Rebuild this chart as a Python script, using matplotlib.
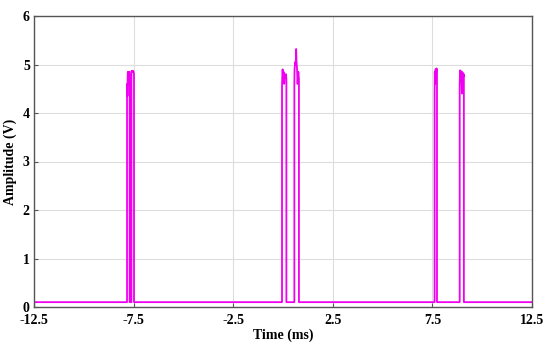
import matplotlib
matplotlib.use("Agg")
import matplotlib.pyplot as plt

# Signal (time in ms, amplitude in V)
base = 0.1
time = [-12.5, -7.83,
        -7.83, -7.82, -7.81, -7.80, -7.79, -7.77, -7.75, -7.73, -7.71, -7.70,
        -7.70, -7.61,
        -7.61, -7.60, -7.58, -7.55, -7.52, -7.50, -7.48,
        -7.48, -0.05,
        -0.05, -0.04, -0.02, 0.00, 0.03, 0.06, 0.09, 0.12, 0.15, 0.17,
        0.17, 0.57,
        0.57, 0.58, 0.61, 0.64, 0.66, 0.68, 0.70, 0.73, 0.77, 0.80,
        0.80, 7.61,
        7.61, 7.62, 7.64, 7.66, 7.68, 7.71, 7.73,
        7.73, 8.87,
        8.87, 8.89, 8.92, 8.95, 8.98, 9.01, 9.05, 9.08,
        9.08, 12.5]
amplitude = [base, base,
             4.45, 4.60, 4.35, 4.70, 4.85, 4.85, 4.60, 4.85, 4.85, 4.80,
             base, base,
             4.80, 4.87, 4.87, 4.85, 4.87, 4.85, 4.80,
             base, base,
             4.55, 4.70, 4.90, 4.75, 4.85, 4.60, 4.80, 4.75, 4.80, 4.70,
             base, base,
             4.60, 4.90, 5.05, 5.00, 5.32, 5.05, 4.95, 4.60, 4.85, 4.70,
             base, base,
             4.40, 4.85, 4.60, 4.90, 4.80, 4.92, 4.85,
             base, base,
             4.60, 4.88, 4.80, 4.86, 4.40, 4.84, 4.75, 4.80,
             base, base]

xticks = [-12.5, -7.5, -2.5, 2.5, 7.5, 12.5]
xtick_labels = ["-12.5", "-7.5", "-2.5", "2.5", "7.5", "12.5"]
yticks = [0, 1, 2, 3, 4, 5, 6]

plt.rcParams['font.family'] = ['Liberation Serif', 'DejaVu Serif']
fig = plt.figure(figsize=(5.5, 3.48), dpi=100)
ax = fig.add_axes([34/550, 1 - 307/348, (532-34)/550, (307-16)/348])
ax.plot(time, amplitude, color='#F000F0', lw=1.3)
ax.set_xlim(-12.5, 12.5)
ax.set_ylim(0, 6)
ax.set_xticks(xticks)
ax.set_xticklabels(xtick_labels)
ax.set_yticks(yticks)
ax.grid(True, color='#DDDDDD', lw=0.8)
ax.set_axisbelow(True)
for s in ax.spines.values():
    s.set_color('#555555')
    s.set_linewidth(1.0)
ax.tick_params(direction='in', length=3, color='#555555', labelsize=10)
ax.tick_params(axis='x', pad=5)
ax.tick_params(axis='y', pad=3)
for lab in ax.get_xticklabels() + ax.get_yticklabels():
    lab.set_fontweight('bold')
ax.set_xlabel('Time (ms)', fontsize=10, fontweight='bold', labelpad=1)
ax.set_ylabel('Amplitude (V)', fontsize=10, fontweight='bold', labelpad=4)
fig.savefig('out.png', dpi=100)
